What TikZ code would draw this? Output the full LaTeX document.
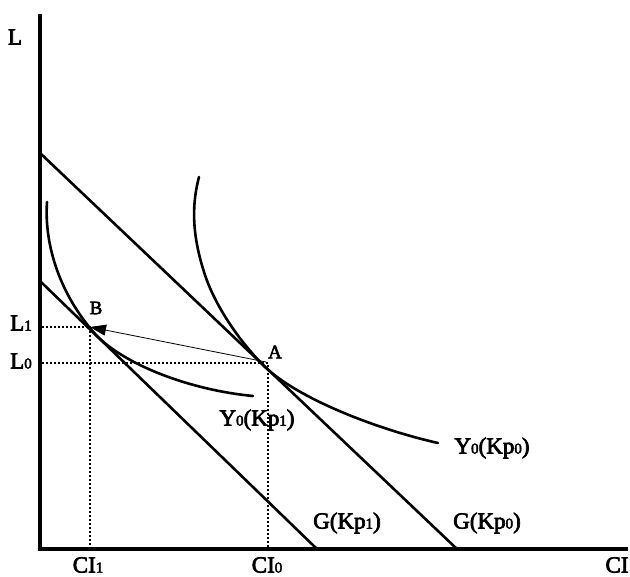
\documentclass[tikz,border=0pt]{standalone}
\usepackage{fontspec}
\setmainfont{Liberation Serif}[FakeBold=3]
\usetikzlibrary{arrows.meta}
\newcommand\sbs[1]{{\fontsize{15}{15}\selectfont #1}}
\begin{document}
\begin{tikzpicture}[x=1pt,y=-1pt,
  axis/.style={line width=3.6pt},
  budget/.style={line width=2.6pt},
  curve/.style={line width=2.6pt, line cap=round},
  guide/.style={line width=2pt, dash pattern=on 2pt off 2pt},
  lab/.style={font=\fontsize{23}{23}\selectfont, inner sep=0pt, anchor=center}]
\useasboundingbox (0,0) rectangle (630,577);
\fill[white] (0,0) rectangle (630,577);
% axes
\coordinate (O) at (40,549);
\coordinate (Ytop) at (40,14);
\coordinate (Xend) at (628,549);
\draw[axis] (Ytop) -- (O) -- (Xend);
% budget lines
\coordinate (G0a) at (40,153);
\coordinate (G0b) at (457,549);
\coordinate (G1a) at (40,281);
\coordinate (G1b) at (317,549);
\draw[budget] (G0a) -- (G0b);
\draw[budget] (G1a) -- (G1b);
% curves
\draw[curve] (199,177) .. controls (193,200) and (190,230) .. (205,275)
  .. controls (215,305) and (238,340) .. (265,367)
  .. controls (300,400) and (380,430) .. (438,443);
\draw[curve] (47,202) .. controls (44,245) and (60,295) .. (96,335)
  .. controls (125,365) and (190,390) .. (253,396);
% points and guides
\coordinate (A) at (268,363);
\coordinate (B) at (90,327);
\coordinate (L1s) at (42,327);
\coordinate (L0s) at (42,363);
\coordinate (CI1e) at (90,547);
\coordinate (CI0e) at (268,547);
\draw[guide] (L1s) -- (B) -- (CI1e);
\draw[guide] (L0s) -- (A) -- (CI0e);
\draw[line width=0.8pt, -{Triangle[length=16pt,width=11pt]}] (266,362) -- (B);
% labels
\node[lab] (lL) at (15,37) {L};
\node[lab] (lL1) at (21,323) {L\sbs{1}};
\node[lab] (lL0) at (21,361) {L\sbs{0}};
\node[lab, font=\fontsize{19}{19}\selectfont] (lB) at (96,308) {B};
\node[lab, font=\fontsize{19}{19}\selectfont] (lA) at (275,352) {A};
\node[lab] (lY1) at (257,420) {Y\sbs{0}(Kp\sbs{1})};
\node[lab] (lY0) at (492,448) {Y\sbs{0}(Kp\sbs{0})};
\node[lab] (lG1) at (347,523) {G(Kp\sbs{1})};
\node[lab] (lG0) at (487,523) {G(Kp\sbs{0})};
\node[lab] (lCI1) at (88,565) {CI\sbs{1}};
\node[lab] (lCI0) at (267,565) {CI\sbs{0}};
\node[lab] (lCI) at (617,565) {CI};
\end{tikzpicture}
\end{document}
